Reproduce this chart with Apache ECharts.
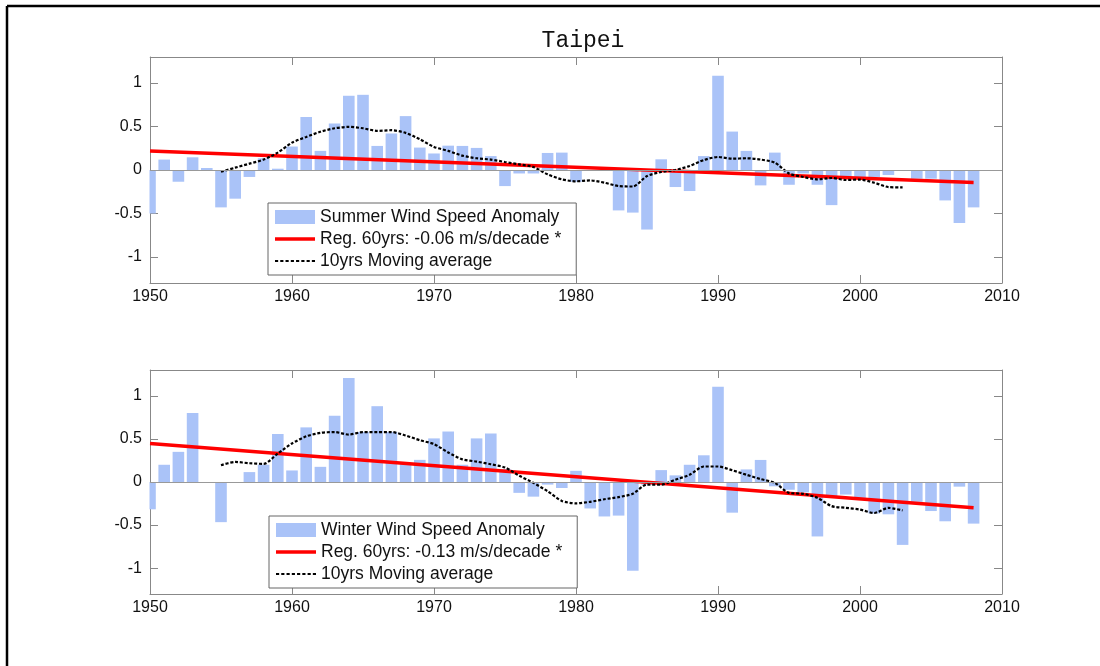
<!DOCTYPE html>
<html>
<head>
<meta charset="utf-8">
<script src="https://cdn.jsdelivr.net/npm/echarts@6/dist/echarts.min.js"></script>
<style>html,body{margin:0;padding:0;background:#fff;}#chart{width:1100px;height:666px;}</style>
</head>
<body>
<div id="chart"></div>
<script>
const titleText = 'Taipei';
const years = [];
for (let y = 1950; y <= 2008; y++) years.push(y);
const maYears = [];
for (let y = 1955; y <= 2003; y++) maYears.push(y);

const summerAnomaly = [-0.50,0.12,-0.135,0.146,0.023,-0.43,-0.33,-0.08,0.135,0.015,
  0.27,0.61,0.22,0.535,0.854,0.865,0.277,0.42,0.62,0.258,
  0.19,0.28,0.277,0.254,0.16,-0.185,-0.04,-0.04,0.196,0.2,
  -0.135,0,0,-0.465,-0.49,-0.685,0.123,-0.196,-0.242,0.16,
  1.085,0.442,0.22,-0.177,0.2,-0.17,-0.04,-0.17,-0.404,-0.1,
  -0.1,-0.08,-0.058,0,-0.1,-0.1,-0.35,-0.61,-0.43];
const winterAnomaly = [-0.317,0.2,0.35,0.80,0,-0.466,0,0.115,0.2,0.557,
  0.134,0.634,0.176,0.77,1.206,0.58,0.88,0.58,0.22,0.257,
  0.506,0.586,0.2,0.506,0.563,0.15,-0.126,-0.17,-0.03,-0.07,
  0.13,-0.307,-0.40,-0.39,-1.03,-0.03,0.138,0.077,0.2,0.31,
  1.107,-0.356,0.146,0.256,-0.05,-0.09,-0.12,-0.632,-0.18,-0.146,
  -0.2,-0.365,-0.375,-0.73,-0.23,-0.337,-0.456,-0.054,-0.483];
const summerMA = [-0.02,0.027,0.073,0.12,0.2,0.315,0.38,0.44,0.48,0.496,
  0.48,0.45,0.458,0.427,0.354,0.265,0.22,0.165,0.135,0.12,
  0.092,0.065,0.035,-0.05,-0.108,-0.13,-0.12,-0.146,-0.185,-0.19,
  -0.07,-0.023,0,0.046,0.115,0.15,0.13,0.135,0.12,0.085,
  -0.04,-0.08,-0.108,-0.092,-0.115,-0.11,-0.146,-0.196,-0.2];
const winterMA = [0.195,0.233,0.218,0.21,0.33,0.447,0.53,0.57,0.58,0.55,
  0.58,0.58,0.58,0.54,0.485,0.44,0.343,0.263,0.237,0.206,
  0.168,0.073,-0.01,-0.107,-0.22,-0.248,-0.23,-0.2,-0.175,-0.137,
  -0.03,-0.03,0.027,0.084,0.18,0.18,0.137,0.084,0.034,-0.01,
  -0.126,-0.137,-0.183,-0.28,-0.3,-0.32,-0.36,-0.3,-0.33];
const summerRegYears = [1950, 2008];
const summerRegValues = [0.22, -0.145];
const winterRegYears = [1950, 2008];
const winterRegValues = [0.447, -0.298];

const xTicks = [1950, 1960, 1970, 1980, 1990, 2000, 2010];
const yTicks = [-1, -0.5, 0, 0.5, 1];

const names = {
  sBar: 'Summer Wind Speed Anomaly',
  sReg: 'Reg. 60yrs: -0.06 m/s/decade *',
  wBar: 'Winter Wind Speed Anomaly',
  wReg: 'Reg. 60yrs: -0.13 m/s/decade *',
  ma: '10yrs Moving average'
};

const zip = (xs, ys) => xs.map((x, i) => [x, ys[i]]);

const axisGrey = '#888888';
const labelFont = { fontFamily: 'Liberation Sans, Arial, sans-serif', fontSize: 16, color: '#111' };

function xAx(grid, pos, labels) {
  return {
    type: 'value', gridIndex: grid, position: pos,
    min: xTicks[0], max: xTicks[xTicks.length - 1], interval: 10,
    axisLine: { show: true, onZero: false, lineStyle: { color: axisGrey, width: 1 } },
    axisTick: { show: true, inside: true, length: 8, lineStyle: { color: axisGrey } },
    axisLabel: Object.assign({ show: labels, margin: 6, formatter: v => String(v) }, labelFont),
    splitLine: { show: false }
  };
}
function yAx(grid, pos, labels) {
  return {
    type: 'value', gridIndex: grid, position: pos,
    min: -1.3, max: 1.3,
    axisLine: { show: true, onZero: false, lineStyle: { color: axisGrey, width: 1 } },
    axisTick: { show: true, inside: true, length: 8, lineStyle: { color: axisGrey }, customValues: yTicks },
    axisLabel: Object.assign({ show: labels, margin: 8, customValues: yTicks, hideOverlap: false, formatter: v => String(v) }, labelFont),
    splitLine: { show: false }
  };
}

const barColor = '#aac3f8';
function barSeries(name, xi, yi, vals) {
  return {
    name: name, type: 'bar', xAxisIndex: xi, yAxisIndex: yi,
    data: zip(years, vals), barWidth: 11.6, clip: true,
    itemStyle: { color: barColor },
    markLine: {
      silent: true, symbol: 'none', animation: false,
      label: { show: false },
      lineStyle: { color: '#999', width: 1, type: 'solid' },
      data: [{ yAxis: 0 }]
    },
    animation: false
  };
}
function regSeries(name, xi, yi, xs, vs) {
  return {
    name: name, type: 'line', xAxisIndex: xi, yAxisIndex: yi,
    data: zip(xs, vs), symbol: 'none', showSymbol: false,
    lineStyle: { color: '#ff0000', width: 3.5 }, itemStyle: { color: '#ff0000' },
    animation: false, z: 3
  };
}
function maSeries(xi, yi, vals) {
  return {
    name: names.ma, type: 'line', xAxisIndex: xi, yAxisIndex: yi,
    data: zip(maYears, vals), symbol: 'none', showSymbol: false, smooth: 0.25,
    lineStyle: { color: '#000', width: 2.2, type: [3, 1.8] }, itemStyle: { color: '#000' },
    animation: false, z: 4
  };
}

// legend icon shapes
const solidIcon = 'path://M0,0 L40,0 L40,3.5 L0,3.5 Z';
let dashIcon = 'path://';
for (let i = 0; i < 8; i++) {
  const x0 = i * 5, x1 = i * 5 + 3;
  dashIcon += 'M' + x0 + ',0 L' + x1 + ',0 L' + x1 + ',2 L' + x0 + ',2 Z ';
}

function legendAt(left, top, barName, regName) {
  return {
    orient: 'vertical', left: left, top: top,
    padding: [5, 15, 5, 7], itemGap: 4, itemWidth: 40, itemHeight: 14,
    borderColor: '#666', borderWidth: 1, backgroundColor: '#fff',
    selectedMode: false, symbolKeepAspect: true,
    textStyle: { fontFamily: 'Liberation Sans, Arial, sans-serif', fontSize: 17.5, color: '#111', lineHeight: 18 },
    data: [{ name: barName, icon: 'rect' }, { name: regName, icon: solidIcon }, { name: names.ma, icon: dashIcon }]
  };
}

const chart = echarts.init(document.getElementById('chart'), null, { renderer: 'canvas' });
chart.setOption({
  backgroundColor: '#fff',
  animation: false,
  title: {
    text: titleText, left: 578, top: 24, textAlign: 'center',
    textStyle: { fontFamily: 'Liberation Mono, monospace', fontSize: 23, fontWeight: 'normal', color: '#111' }
  },
  grid: [
    { left: 150, top: 57, width: 852, height: 226 },
    { left: 150, top: 370, width: 852, height: 224 }
  ],
  xAxis: [xAx(0, 'bottom', true), xAx(0, 'top', false), xAx(1, 'bottom', true), xAx(1, 'top', false)],
  yAxis: [yAx(0, 'left', true), yAx(0, 'right', false), yAx(1, 'left', true), yAx(1, 'right', false)],
  legend: [legendAt(268, 203, names.sBar, names.sReg), legendAt(269, 516, names.wBar, names.wReg)],
  series: [
    barSeries(names.sBar, 0, 0, summerAnomaly),
    regSeries(names.sReg, 0, 0, summerRegYears, summerRegValues),
    maSeries(0, 0, summerMA),
    barSeries(names.wBar, 2, 2, winterAnomaly),
    regSeries(names.wReg, 2, 2, winterRegYears, winterRegValues),
    maSeries(2, 2, winterMA)
  ],
  graphic: [
    // mask the half of the first bar that falls left of the plot box
    { type: 'rect', shape: { x: 143, y: 57, width: 6.5, height: 226 }, style: { fill: '#fff' }, z: 100, silent: true },
    { type: 'rect', shape: { x: 143, y: 370, width: 6.5, height: 224 }, style: { fill: '#fff' }, z: 100, silent: true },
    { type: 'line', shape: { x1: 7, y1: 6, x2: 1100, y2: 6 }, style: { stroke: '#000', lineWidth: 2.5 }, silent: true },
    { type: 'line', shape: { x1: 7, y1: 6, x2: 7, y2: 666 }, style: { stroke: '#000', lineWidth: 2.5 }, silent: true }
  ]
});
</script>
</body>
</html>
